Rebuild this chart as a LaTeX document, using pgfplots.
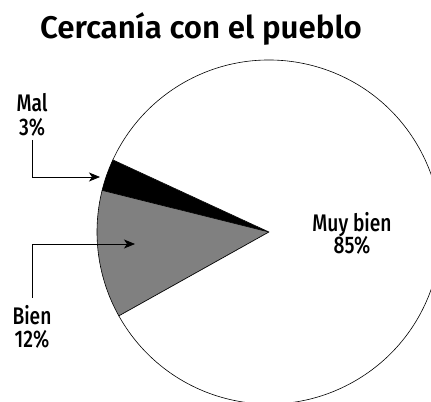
\documentclass[border=0pt]{standalone}
\usepackage{pgfplots}
\pgfplotsset{compat=1.18}
\usepackage{pgfplotstable}
\usepackage{fontspec}
\setmainfont{Liberation Sans}
\newfontfamily\labelfont{Fira Sans Medium}[FakeStretch=0.8]
\newfontfamily\titlefont{Fira Sans SemiBold}
\usetikzlibrary{arrows.meta}
\definecolor{piegray}{RGB}{128,128,128}

\pgfplotstableread{
label value
Mal 3
Bien 12
MuyBien 85
}\piedata

\begin{document}
\begin{tikzpicture}
\useasboundingbox (0,0) rectangle (431bp,402bp);
\begin{axis}[
  at={(0,0)}, anchor=south west,
  x=1bp, y=1bp,
  xmin=0, xmax=431, ymin=0, ymax=402,
  hide axis,
  clip=true,
]
\addplot[draw=none] coordinates {(0,0) (431,402)};
\pgfplotsextra{
  \xdef\cur{155.2}
  \foreach \i/\col in {0/black,1/piegray,2/white}{
    \pgfplotstablegetelem{\i}{value}\of\piedata
    \pgfmathsetmacro\nxt{\cur+3.6*\pgfplotsretval}
    \filldraw[fill=\col, draw=black, line width=0.6bp, line join=round]
      (axis cs:269,170) -- ++(\cur:172bp) arc[start angle=\cur, end angle=\nxt, radius=172bp] -- cycle;
    \xdef\cur{\nxt}
  }
}
% title
\node[anchor=base, inner sep=0pt, font=\titlefont\fontsize{31.3bp}{33bp}\selectfont] at (axis cs:201,363.7) {Cercanía con el pueblo};
% labels
\tikzset{lbl/.style={anchor=base, inner sep=0pt, font=\labelfont\fontsize{24bp}{24bp}\selectfont}}
\node[lbl] at (axis cs:32,290.5) {Mal};
\node[lbl] at (axis cs:32,267) {3\%};
\node[lbl] at (axis cs:32,78) {Bien};
\node[lbl] at (axis cs:32,55) {12\%};
\node[lbl] at (axis cs:352,171) {Muy bien};
\node[lbl] at (axis cs:352,149) {85\%};
% arrows
\draw[line width=0.8bp, -{Stealth[length=11bp, width=9bp, inset=3bp]}] (axis cs:32,262) -- (axis cs:32,225) -- (axis cs:100,225);
\draw[line width=0.8bp, -{Stealth[length=11bp, width=9bp, inset=3bp]}] (axis cs:32,104) -- (axis cs:32,158) -- (axis cs:135,158);
\end{axis}
\end{tikzpicture}
\end{document}
